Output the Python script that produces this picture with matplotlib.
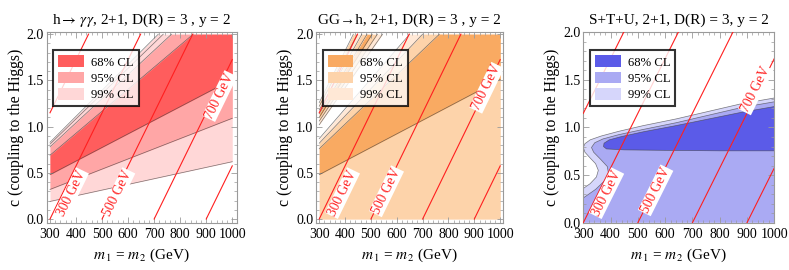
import numpy as np
import matplotlib
matplotlib.use("Agg")
import matplotlib.pyplot as plt
from matplotlib.patches import Patch
from matplotlib.ticker import MultipleLocator

plt.rcParams['font.family'] = ['Liberation Serif', 'DejaVu Serif']
plt.rcParams['mathtext.fontset'] = 'stix'

# Lightest-state mass contours: m_light = m - K_MIX * c
MASS_LEVELS = [100, 300, 500, 700, 900]
LABELLED = [300, 500, 700]
K_MIX = 174.0

# Panel 1 (h -> gamma gamma): band edges as (m, c) end points
p1_lo99 = [(300, 0.19), (1000, 0.62)]
p1_lo95 = [(300, 0.32), (1000, 1.09)]
p1_lo68 = [(300, 0.48), (1000, 1.51)]
p1_hi68 = [(300, 0.69), (850, 2.0)]
p1_hi95 = [(300, 0.78), (767, 2.0)]
p1_hi99 = [(300, 0.83), (716, 2.0)]

# Panel 2 (GG -> h)
p2_lo68 = [(300, 0.48), (1000, 1.51)]
p2_hi68 = [(300, 0.76), (765, 2.0)]
p2_hi95 = [(300, 0.82), (700, 2.0)]
p2_hi99 = [(300, 0.87), (650, 2.0)]
# thin striped strip in the upper-left corner
p2_stripe_left = [1.02, 1.06, 1.10, 1.14, 1.18, 1.22, 1.26]
p2_stripe_top = [545, 525, 505, 485, 465, 448, 432]
p2_stripe_cl = ['99', '95', '68', '95', '99', '95']

# Panel 3 (S+T+U): closed regions
p3_m99 = [300, 1000, 1000, 880, 760, 640, 520, 430, 365, 325, 306, 300, 306, 325, 345, 355, 348, 325, 300]
p3_c99 = [0.0, 0.0, 1.31, 1.25, 1.17, 1.09, 1.02, 0.96, 0.91, 0.87, 0.83, 0.79, 0.74, 0.68, 0.62, 0.55, 0.48, 0.41, 0.36]
p3_m95 = [300, 1000, 1000, 880, 760, 640, 520, 430, 372, 342, 330, 338, 362, 388, 392, 378, 345, 300]
p3_c95 = [0.0, 0.0, 1.27, 1.21, 1.13, 1.05, 0.98, 0.925, 0.88, 0.84, 0.79, 0.74, 0.67, 0.59, 0.52, 0.44, 0.35, 0.26]
p3_m68 = [1000, 880, 760, 640, 520, 440, 395, 376, 374, 385, 450, 600, 800, 1000]
p3_c68 = [1.22, 1.16, 1.09, 1.02, 0.955, 0.905, 0.87, 0.835, 0.80, 0.775, 0.765, 0.76, 0.755, 0.755]

# contour label centres (m, c)
label_pos = {
    0: [(382, 0.28), (560, 0.28), (952, 1.33)],
    1: [(390, 0.28), (560, 0.30), (948, 1.42)],
    2: [(385, 0.31), (565, 0.34), (932, 1.40)],
}

titles = [r"h$\rightarrow\,\gamma\gamma$, 2+1, D(R) = 3 , y = 2",
          "GG\u2192h, 2+1, D(R) = 3 , y = 2",
          "S+T+U, 2+1, D(R) = 3, y = 2"]

colors = [
    {'68': '#ff5d5d', '95': '#ffa6a6', '99': '#ffd7d7'},
    {'68': '#f9aa62', '95': '#fdd3aa', '99': '#ffe8d6'},
    {'68': '#5b5be8', '95': '#aaaaf3', '99': '#d6d6fb'},
]

EDGE = dict(color='#444444', lw=0.5, alpha=0.7)
M = np.linspace(300, 1000, 701)


def edge(pts, m=M):
    (m0, c0), (m1, c1) = pts
    return c0 + (c1 - c0) * (m - m0) / (m1 - m0)


def band(ax, lo, hi, color):
    lo = np.clip(lo, 0, 2)
    hi = np.clip(hi, 0, 2)
    ax.fill_between(M, lo, hi, where=hi > lo, color=color, lw=0, interpolate=True)


def draw_edge(ax, pts):
    c = edge(pts)
    ok = (c >= 0) & (c <= 2)
    ax.plot(M[ok], c[ok], **EDGE)


fig = plt.figure(figsize=(7.89, 2.70), dpi=100)
axes_rects = [
    [46.7 / 789, 47.3 / 270, 190 / 789, 190.4 / 270],
    [316 / 789, 47.3 / 270, 187.3 / 789, 190.4 / 270],
    [583.3 / 789, 47.3 / 270, 191 / 789, 190.4 / 270],
]
xlims = [(287.3, 1017), (287.5, 1012), (300, 1000)]
ylims = [(-0.04, 2.02), (-0.04, 2.02), (0, 2)]

for i, rect in enumerate(axes_rects):
    ax = fig.add_axes(rect)
    ax.set_xlim(*xlims[i])
    ax.set_ylim(*ylims[i])
    col = colors[i]

    if i == 0:
        band(ax, edge(p1_lo99), edge(p1_hi99), col['99'])
        band(ax, edge(p1_lo95), edge(p1_hi95), col['95'])
        band(ax, edge(p1_lo68), edge(p1_hi68), col['68'])
        for b in [p1_lo99, p1_lo95, p1_lo68, p1_hi68, p1_hi95, p1_hi99]:
            draw_edge(ax, b)
        draw_edge(ax, [(300, 0.81), (735, 2.0)])
    elif i == 1:
        zero = np.zeros_like(M)
        band(ax, zero, edge(p2_hi99), col['99'])
        band(ax, zero, edge(p2_hi95), col['95'])
        band(ax, edge(p2_lo68), edge(p2_hi68), col['68'])
        for b in [p2_lo68, p2_hi68, p2_hi95, p2_hi99]:
            draw_edge(ax, b)
        for j, cl in enumerate(p2_stripe_cl):
            lo = [(300, p2_stripe_left[j]), (p2_stripe_top[j], 2.0)]
            hi = [(300, p2_stripe_left[j + 1]), (p2_stripe_top[j + 1], 2.0)]
            band(ax, edge(lo), edge(hi), col[cl])
        for j in range(len(p2_stripe_left)):
            draw_edge(ax, [(300, p2_stripe_left[j]), (p2_stripe_top[j], 2.0)])
    else:
        ax.fill(p3_m99, p3_c99, color=col['99'], lw=0)
        ax.fill(p3_m95, p3_c95, color=col['95'], lw=0)
        ax.fill(p3_m68, p3_c68, color=col['68'], lw=0)
        ax.plot(p3_m99[2:], p3_c99[2:], **EDGE)
        ax.plot(p3_m95[2:], p3_c95[2:], **EDGE)
        ax.plot(p3_m68, p3_c68, **EDGE)

    # mass contours
    for lev in MASS_LEVELS:
        c0 = max(0.0, (300 - lev) / K_MIX)
        c1 = min(2.0, (1000 - lev) / K_MIX)
        if c1 <= c0:
            continue
        cc = np.array([c0, c1])
        ax.plot(lev + K_MIX * cc, cc, color='#ff1f1f', lw=0.8, zorder=4)

    p0 = ax.transData.transform((500, 0))
    p1 = ax.transData.transform((500 + K_MIX, 1))
    ang = np.degrees(np.arctan2(p1[1] - p0[1], p1[0] - p0[0]))
    for lev, (mx, cy) in zip(LABELLED, label_pos[i]):
        ax.text(mx, cy, f"{lev} GeV", color='#ff1f1f', fontsize=9.8,
                rotation=ang, rotation_mode='anchor', ha='center', va='center',
                bbox=dict(fc='white', ec='none', pad=0.5), zorder=5, clip_on=True)

    # frame
    for s in ax.spines.values():
        s.set_color('#9a9a9a')
        s.set_linewidth(0.8)
    ax.xaxis.set_major_locator(MultipleLocator(100))
    ax.xaxis.set_minor_locator(MultipleLocator(20))
    ax.yaxis.set_major_locator(MultipleLocator(0.5))
    ax.yaxis.set_minor_locator(MultipleLocator(0.1))
    ax.tick_params(which='both', direction='in', top=True, right=True,
                   color='#9a9a9a', labelsize=10)
    ax.tick_params(axis='x', pad=4)
    ax.tick_params(axis='y', pad=2)
    ax.tick_params(which='major', length=4, width=0.6)
    ax.tick_params(which='minor', length=2, width=0.5)
    ax.yaxis.set_major_formatter(plt.FuncFormatter(lambda v, p: f"{v:.1f}"))

    ax.set_title(titles[i], fontsize=11, pad=6)
    ax.set_xlabel(r"$m_{\,1}$ = $m_{\,2}$ (GeV)", fontsize=11, labelpad=4)
    ax.set_ylabel("c (coupling to the Higgs)", fontsize=11.3, labelpad=2)

    handles = [Patch(facecolor=col[k], edgecolor='none') for k in ['68', '95', '99']]
    leg = ax.legend(handles, ['68% CL', '95% CL', '99% CL'], loc='upper left',
                    bbox_to_anchor=(0.035, 0.905), fontsize=9.2, fancybox=False,
                    borderpad=0.4, handlelength=2.0, handleheight=1.0,
                    labelspacing=0.25, handletextpad=0.55, borderaxespad=0)
    leg.get_frame().set_edgecolor('black')
    leg.get_frame().set_linewidth(1.5)
    leg.set_zorder(10)

fig.savefig("out.png", dpi=100)
